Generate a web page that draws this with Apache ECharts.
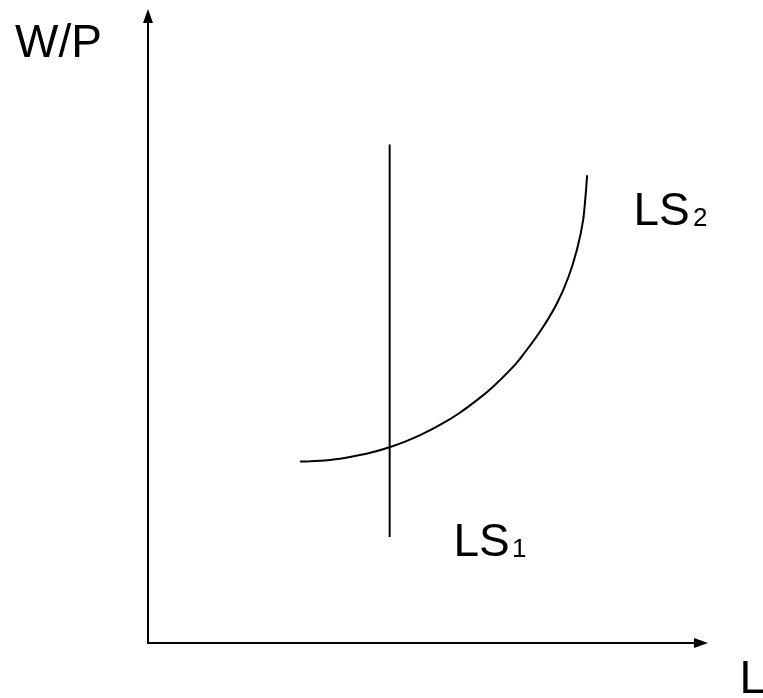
<!DOCTYPE html>
<html>
<head>
<meta charset="utf-8">
<style>
  html, body { margin: 0; padding: 0; background: #fff; }
  #chart { width: 763px; height: 698px; }
</style>
<script src="https://cdn.jsdelivr.net/npm/echarts@6/dist/echarts.min.js"></script>
</head>
<body>
<div id="chart"></div>
<script>
// Labour supply curves (arbitrary units, 0-100 on both axes)
const ls1X = [43.7, 43.7];
const ls1Y = [16.9, 79.5];
const ls2X = [27.5, 29.3, 31.1, 32.9, 34.7, 36.5, 38.3, 41.1, 43.8, 46.5, 49.2, 52.8, 56.4, 60.0, 62.4, 65.5, 67.3, 70.9, 73.9, 76.0, 77.6, 78.7, 79.2, 79.4];
const ls2Y = [28.95, 28.98, 29.06, 29.20, 29.39, 29.65, 29.97, 30.54, 31.26, 32.12, 33.14, 34.77, 36.73, 39.09, 40.88, 43.56, 45.37, 49.68, 54.07, 58.29, 62.84, 67.53, 72.1, 74.6];
const axisNames = { y: 'W/P', x: 'L' };
const seriesNames = ['LS', 'LS'];
const subscripts = ['1', '2'];

const zip = (xs, ys) => xs.map((x, i) => [x, ys[i]]);

const chart = echarts.init(document.getElementById('chart'), null, { renderer: 'canvas' });
const FONT = '"Liberation Sans", Arial, sans-serif';
const axisCommon = {
  type: 'value', min: 0, max: 100,
  axisLine: { show: true, symbol: ['none', 'triangle'], symbolSize: [10, 14],
              lineStyle: { color: '#000', width: 2 } },
  axisTick: { show: false }, axisLabel: { show: false }, splitLine: { show: false }
};
const txt = (text, x, y, size) => ({
  type: 'text', x: x, y: y, silent: true,
  style: { text: text, fill: '#000', font: size + 'px ' + FONT, verticalAlign: 'middle', align: 'left' }
});
chart.setOption({
  animation: false,
  backgroundColor: '#fff',
  grid: { left: 148, right: 62, top: 16, bottom: 55 },
  xAxis: axisCommon,
  yAxis: axisCommon,
  series: [
    { name: seriesNames[0] + subscripts[0], type: 'line', data: zip(ls1X, ls1Y), showSymbol: false,
      lineStyle: { color: '#000', width: 2 } },
    { name: seriesNames[1] + subscripts[1], type: 'line', data: zip(ls2X, ls2Y), showSymbol: false, smooth: 0.2,
      lineStyle: { color: '#000', width: 2 } }
  ],
  graphic: [
    txt(axisNames.y, 15, 44, 46),
    txt(axisNames.x, 739.5, 680, 46),
    txt(seriesNames[1], 633.5, 212, 46),
    txt(subscripts[1], 693, 219, 26),
    txt(seriesNames[0], 453.5, 543, 46),
    txt(subscripts[0], 512, 550, 26)
  ]
});
</script>
</body>
</html>
